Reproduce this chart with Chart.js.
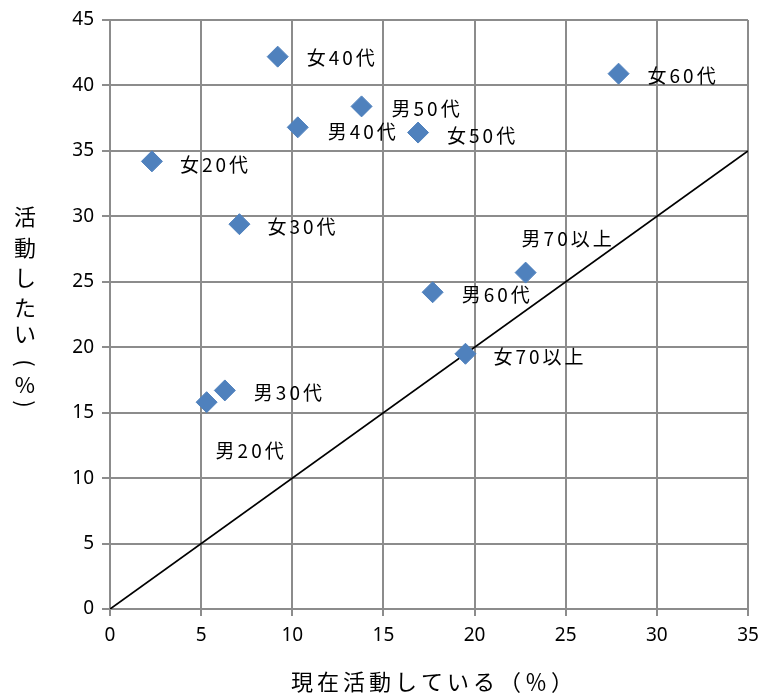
<!DOCTYPE html>
<html lang="ja">
<head>
<meta charset="utf-8">
<title>活動したい × 現在活動している</title>
<script src="https://cdn.jsdelivr.net/npm/chart.js@4.4.1/dist/chart.umd.min.js"></script>
<style>
    html, body { margin: 0; padding: 0; background: #fff; }
    #wrap { width: 762px; height: 696px; position: relative; }
</style>
</head>
<body>
<div id="wrap"><canvas id="scatterChart"></canvas></div>
<script>
// Data
const groups = ['女40代', '女60代', '男50代', '男40代', '女50代', '女20代',
                '女30代', '男70以上', '男60代', '女70以上', '男30代', '男20代'];
const activeNow = [9.2, 27.9, 13.8, 10.3, 16.9, 2.3, 7.1, 22.8, 17.7, 19.5, 6.3, 5.3];
const wantActive = [42.2, 40.9, 38.4, 36.8, 36.4, 34.2, 29.4, 25.7, 24.2, 19.5, 16.7, 15.8];
const refLineX = [0, 35];
const refLineY = [0, 35];
const xTickValues = [0, 5, 10, 15, 20, 25, 30, 35];
const yTickValues = [0, 5, 10, 15, 20, 25, 30, 35, 40, 45];

// label offsets from each marker (px)
const labelOffsets = [
    [29, 1], [29, 2], [30, 2], [30, 4], [29, 3], [28, 3],
    [28, 3], [-4, -34], [29, 3], [28, 3], [29, 2], [9, 49]
];

const xTitle = '現在活動している（％）';
const yTitleChars = ['活', '動', 'し', 'た', 'い', '(', '%', ')'];
const yTitleY = [217, 248, 278, 308, 334, 363, 385, 404];

const gridColor = '#8c8c8c';
const labelFont = '19px "Noto Sans CJK JP", "Noto Sans", sans-serif';

const pointLabels = {
    id: 'pointLabels',
    afterDatasetsDraw(chart) {
        const ctx = chart.ctx;
        const meta = chart.getDatasetMeta(0);
        ctx.save();
        ctx.font = labelFont;
        ctx.fillStyle = '#000';
        ctx.textBaseline = 'middle';
        ctx.textAlign = 'left';
        if ('letterSpacing' in ctx) ctx.letterSpacing = '3px';
        meta.data.forEach((pt, i) => {
            const off = labelOffsets[i];
            ctx.fillText(groups[i], pt.x + off[0], pt.y + off[1]);
        });
        ctx.restore();
    }
};

const axisTitles = {
    id: 'axisTitles',
    afterDraw(chart) {
        const ctx = chart.ctx;
        const area = chart.chartArea;
        ctx.save();
        ctx.fillStyle = '#000';
        ctx.font = '22px "Noto Sans CJK JP", sans-serif';
        ctx.textAlign = 'center';
        ctx.textBaseline = 'middle';
        if ('letterSpacing' in ctx) ctx.letterSpacing = '4px';
        ctx.fillText(xTitle, (area.left + area.right) / 2 + 5, 682);
        ctx.letterSpacing = '0px';
        yTitleChars.forEach((ch, i) => {
            ctx.save();
            ctx.translate(25, yTitleY[i]);
            // brackets turn sideways in vertical writing
            if (ch === '(' || ch === ')') ctx.rotate(Math.PI / 2);
            ctx.fillText(ch, 0, 0);
            ctx.restore();
        });
        ctx.restore();
    }
};

function setTicks(values) {
    return function(scale) {
        scale.ticks = values.map(v => ({ value: v }));
    };
}

const canvas = document.getElementById('scatterChart');
new Chart(canvas, {
    type: 'scatter',
    data: {
        datasets: [{
            label: '年代別',
            data: groups.map((g, i) => ({ x: activeNow[i], y: wantActive[i] })),
            pointStyle: 'rectRot',
            pointRadius: 10.5,
            pointHoverRadius: 10.5,
            backgroundColor: '#4f81bd',
            borderColor: '#4f81bd',
            borderWidth: 1,
            order: 1
        }, {
            type: 'line',
            label: 'y = x',
            data: refLineX.map((x, i) => ({ x: x, y: refLineY[i] })),
            borderColor: '#000',
            borderWidth: 1.8,
            pointRadius: 0,
            fill: false,
            order: 2
        }]
    },
    options: {
        responsive: true,
        maintainAspectRatio: false,
        animation: false,
        layout: { padding: { left: 0, top: 20, right: 14, bottom: 0 } },
        plugins: {
            legend: { display: false },
            tooltip: { enabled: false }
        },
        scales: {
            x: {
                type: 'linear',
                min: 0,
                max: 35,
                afterBuildTicks: setTicks(xTickValues),
                afterFit(scale) {
                    scale.height = 87;
                    scale.paddingLeft = 0;
                    scale.paddingRight = 0;
                },
                grid: { color: gridColor, lineWidth: 2, tickLength: 7 },
                border: { color: gridColor, width: 2 },
                ticks: {
                    color: '#000',
                    padding: 8,
                    font: { family: '"Noto Sans", sans-serif', size: 19 }
                }
            },
            y: {
                type: 'linear',
                min: 0,
                max: 45,
                afterBuildTicks: setTicks(yTickValues),
                afterFit(scale) {
                    scale.width = 110;
                    scale.paddingTop = 0;
                    scale.paddingBottom = 0;
                },
                grid: { color: gridColor, lineWidth: 2, tickLength: 8 },
                border: { color: gridColor, width: 2 },
                ticks: {
                    color: '#000',
                    padding: 8,
                    font: { family: '"Noto Sans", sans-serif', size: 19 }
                }
            }
        }
    },
    plugins: [pointLabels, axisTitles]
});
</script>
</body>
</html>
